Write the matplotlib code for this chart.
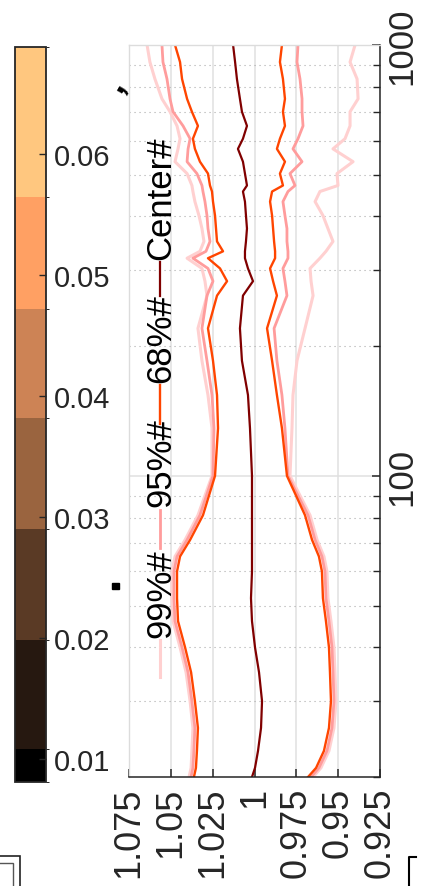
import matplotlib
matplotlib.use('Agg')
import matplotlib.pyplot as plt
from matplotlib.colors import ListedColormap, BoundaryNorm
from matplotlib.cm import ScalarMappable
from matplotlib.patches import Rectangle
from matplotlib.lines import Line2D
from matplotlib.ticker import FixedLocator, NullFormatter

plt.rcParams['font.family'] = ['Liberation Sans', 'DejaVu Sans']

# sample size (vertical log axis) and the band edges
n = [1000, 913, 834, 750, 700, 649, 606, 574, 536, 503, 472, 457, 433, 402,
     375, 350, 332, 320, 303, 283, 262, 220, 185, 154, 129,
     100, 81, 71, 65, 60, 52, 46, 40, 35, 30, 26, 23, 21, 20]

center = [1.0128, 1.0116, 1.0105, 1.0087, 1.0075, 1.0045, 1.0069, 1.0099, 1.0069, 1.0057,
          1.0045, 1.0069, 1.0057, 1.0051, 1.0045, 1.0051, 1.0057, 1.0057, 1.0039, 1.0009,
          1.0069, 1.0087, 1.0075, 1.0039, 1.0027,
          1.0015, 1.0015, 1.0015, 1.0015, 1.0015, 1.0021, 1.0015, 0.9997, 0.9973, 0.9955,
          0.9961, 0.9979, 0.9997, 1.0015]

hi68 = [1.0475, 1.0445, 1.0433, 1.0403, 1.0374, 1.0338, 1.0368, 1.0356, 1.0326, 1.0278,
        1.0266, 1.0254, 1.0248, 1.0236, 1.0230, 1.0224, 1.0188, 1.0278, 1.0206, 1.0164,
        1.0224, 1.0278, 1.0248, 1.0224, 1.0218,
        1.0236, 1.0308, 1.0385, 1.0445, 1.0463, 1.0463, 1.0457, 1.0415, 1.0379, 1.0356,
        1.0338, 1.0344, 1.0350, 1.0362]
lo68 = [0.9836, 0.9848, 0.9830, 0.9818, 0.9830, 0.9818, 0.9848, 0.9866, 0.9818, 0.9848,
        0.9830, 0.9895, 0.9907, 0.9895, 0.9889, 0.9883, 0.9877, 0.9877, 0.9907, 0.9889,
        0.9866, 0.9925, 0.9895, 0.9866, 0.9836,
        0.9806, 0.9698, 0.9656, 0.9615, 0.9597, 0.9591, 0.9573, 0.9555, 0.9549, 0.9543,
        0.9555, 0.9585, 0.9632, 0.9680]

hi95 = [1.0553, 1.0547, 1.0523, 1.0505, 1.0487, 1.0427, 1.0385, 1.0397, 1.0403, 1.0344,
        1.0314, 1.0308, 1.0296, 1.0284, 1.0278, 1.0266, 1.0290, 1.0368, 1.0278, 1.0248,
        1.0284, 1.0314, 1.0284, 1.0254, 1.0242,
        1.0248, 1.0326, 1.0403, 1.0463, 1.0481, 1.0481, 1.0475, 1.0433, 1.0397, 1.0374,
        1.0356, 1.0362, 1.0368, 1.0379]
lo95 = [0.9740, 0.9746, 0.9728, 0.9716, 0.9716, 0.9710, 0.9740, 0.9770, 0.9716, 0.9788,
        0.9758, 0.9800, 0.9830, 0.9818, 0.9806, 0.9806, 0.9800, 0.9800, 0.9830, 0.9818,
        0.9806, 0.9883, 0.9866, 0.9836, 0.9818,
        0.9800, 0.9680, 0.9638, 0.9597, 0.9579, 0.9573, 0.9555, 0.9537, 0.9531, 0.9525,
        0.9537, 0.9567, 0.9615, 0.9662]

hi99 = [1.0642, 1.0625, 1.0595, 1.0553, 1.0505, 1.0463, 1.0445, 1.0457, 1.0475, 1.0403,
        1.0374, 1.0368, 1.0356, 1.0332, 1.0314, 1.0302, 1.0326, 1.0403, 1.0314, 1.0296,
        1.0284, 1.0338, 1.0314, 1.0278, 1.0254,
        1.0254, 1.0338, 1.0415, 1.0475, 1.0493, 1.0493, 1.0487, 1.0445, 1.0409, 1.0385,
        1.0368, 1.0374, 1.0379, 1.0391]
lo99 = [0.9399, 0.9429, 0.9387, 0.9381, 0.9429, 0.9429, 0.9459, 0.9531, 0.9411, 0.9507,
        0.9501, 0.9609, 0.9638, 0.9591, 0.9561, 0.9531, 0.9573, 0.9609, 0.9668, 0.9662,
        0.9650, 0.9698, 0.9746, 0.9770, 0.9776,
        0.9788, 0.9668, 0.9626, 0.9585, 0.9567, 0.9561, 0.9543, 0.9525, 0.9519, 0.9513,
        0.9525, 0.9555, 0.9603, 0.9650]

value_ticks = [1.075, 1.05, 1.025, 1.0, 0.975, 0.95, 0.925]
value_labels = ['1.075', '1.05', '1.025', '1', '0.975', '0.95', '0.925']
n_ticks = [100, 1000]
n_labels = ['100', '1000']
n_minor = [20, 30, 40, 50, 60, 70, 80, 90, 200, 300, 400, 500, 600, 700, 800, 900]

legend_labels = ['99%#', '95%#', '68%#', 'Center#']

cbar_bounds = [0.0081, 0.0108, 0.0198, 0.029, 0.0382, 0.0472, 0.0564, 0.0688]
cbar_colors = ['#000000', '#261810', '#5a3a25', '#9a643f', '#cd8355', '#ffa063', '#ffc77f']
cbar_ticks = [0.01, 0.02, 0.03, 0.04, 0.05, 0.06]
cbar_labels = ['0.01', '0.02', '0.03', '0.04', '0.05', '0.06']

c99 = '#ffd0d0'
c95 = '#ff9c9c'
c68 = '#ff4500'
cc = '#800000'
dark = '#262626'

W, H = 424, 887
fig = plt.figure(figsize=(W / 100, H / 100), dpi=100)


def fx(px):
    return px / W


def fy(py):
    return 1 - py / H


ax = fig.add_axes([fx(129), fy(778), fx(380) - fx(129), fy(46) - fy(778)])

ax.plot(hi99, n, color=c99, lw=2.2)
ax.plot(lo99, n, color=c99, lw=2.2)
ax.plot(hi95, n, color=c95, lw=2.0)
ax.plot(lo95, n, color=c95, lw=2.0)
ax.plot(hi68, n, color=c68, lw=1.7)
ax.plot(lo68, n, color=c68, lw=1.7)
ax.plot(center, n, color=cc, lw=1.6)

ax.set_yscale('log')
ax.set_ylim(20, 1000)
ax.set_xlim(1.075, 0.925)

ax.set_xticks(value_ticks)
ax.set_xticklabels(value_labels, rotation=90, fontsize=26, color=dark)
ax.set_yticks(n_ticks)
ax.set_yticklabels(n_labels, rotation=90, fontsize=25, color=dark)
ax.yaxis.set_minor_locator(FixedLocator(n_minor))
ax.yaxis.set_minor_formatter(NullFormatter())
ax.yaxis.tick_right()
for lbl in ax.get_yticklabels():
    lbl.set_va('center')

ax.tick_params(axis='x', which='both', direction='in', length=6, width=1.1,
               color=dark, pad=7, top=False)
ax.tick_params(axis='y', which='major', direction='in', length=6, width=1.1,
               color=dark, pad=4, left=False, right=True)
ax.tick_params(axis='y', which='minor', direction='in', length=5, width=1.0,
               color=dark, left=False, right=True)

ax.grid(True, which='major', color='#e0e0e0', lw=1.1, ls='-')
ax.grid(True, which='minor', axis='y', color='#aaaaaa', lw=0.8, ls=(0, (1, 3.5)))
ax.set_axisbelow(True)

for side in ['left', 'top']:
    ax.spines[side].set_color('#dcdcdc')
    ax.spines[side].set_linewidth(1.0)
for side in ['right', 'bottom']:
    ax.spines[side].set_color(dark)
    ax.spines[side].set_linewidth(1.1)

# legend, laid out by hand because it is turned on its side
leg_colors = [c99, c95, c68, cc]
leg_widths = [2.2, 2.0, 1.7, 1.6]
handle_px = [(678, 641), (549, 511), (425, 386), (297, 263)]
text_px = [638, 507, 383, 260]


def axx(px):
    return (px - 129) / 251


def axy(py):
    return (778 - py) / 732


for lab, col, lw, (h0, h1), t0 in zip(legend_labels, leg_colors, leg_widths, handle_px, text_px):
    ax.add_line(Line2D([axx(160), axx(160)], [axy(h0), axy(h1)], color=col, lw=lw,
                       transform=ax.transAxes, clip_on=False))
    ax.text(axx(170), axy(t0), lab, rotation=90, rotation_mode='anchor', ha='left',
            va='baseline', fontsize=25, color='black', transform=ax.transAxes)

# colorbar
cax = fig.add_axes([fx(15), fy(783), fx(46) - fx(15), fy(48) - fy(783)])
cmap = ListedColormap(cbar_colors)
norm = BoundaryNorm(cbar_bounds, cmap.N)
cb = fig.colorbar(ScalarMappable(norm=norm, cmap=cmap), cax=cax, ticks=cbar_ticks,
                  spacing='proportional')
cb.ax.set_yticklabels(cbar_labels)
cb.ax.tick_params(direction='in', length=5, width=1.0, color=dark, labelsize=21,
                  labelcolor=dark, pad=6)
cb.outline.set_edgecolor(dark)
cb.outline.set_linewidth(1.3)

# stray marks at the edges of the picture
fig.patches.append(Rectangle((fx(112), fy(590)), 7 / W, 6 / H, transform=fig.transFigure,
                             color='black'))
fig.text(fx(114), fy(84), ',', rotation=60, fontsize=26, fontweight='bold',
         ha='center', va='center', color='black')
fig.patches.append(Rectangle((fx(-10), fy(900)), 30 / W, 43 / H, transform=fig.transFigure,
                             fill=False, ec='#222222', lw=1.2))
fig.patches.append(Rectangle((fx(-10), fy(900)), 23 / W, 36 / H, transform=fig.transFigure,
                             fill=False, ec='#555555', lw=1.0))
fig.lines.append(Line2D([fx(409), fx(409), fx(416)], [fy(895), fy(858), fy(858)],
                        transform=fig.transFigure, color='black', lw=1.5))

fig.savefig('out.png', dpi=100)
